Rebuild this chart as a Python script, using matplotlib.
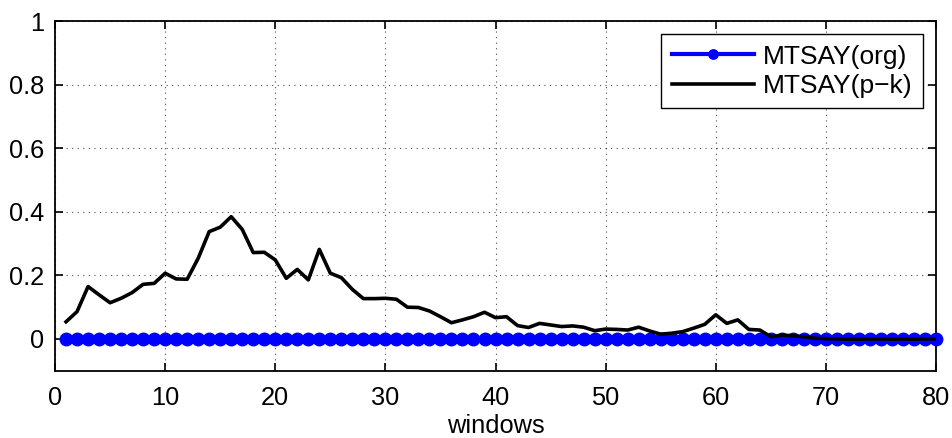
import numpy as np
import matplotlib.pyplot as plt

plt.rcParams['font.family'] = ['Liberation Sans', 'DejaVu Sans']

# windows 1..80
windows = list(range(1, 81))

# MTSAY(org) stays at zero
mtsay_org = [0.0] * 80

# MTSAY(p-k)
mtsay_pk = [0.054, 0.086, 0.165, 0.139, 0.114, 0.128, 0.146, 0.172, 0.175, 0.207,
            0.189, 0.188, 0.254, 0.338, 0.352, 0.385, 0.345, 0.272, 0.273, 0.249,
            0.191, 0.219, 0.186, 0.282, 0.207, 0.193, 0.156, 0.127, 0.127, 0.128,
            0.125, 0.100, 0.099, 0.088, 0.070, 0.051, 0.060, 0.070, 0.084, 0.067,
            0.070, 0.042, 0.036, 0.049, 0.044, 0.039, 0.041, 0.037, 0.026, 0.031,
            0.030, 0.028, 0.037, 0.025, 0.015, 0.018, 0.023, 0.034, 0.046, 0.076,
            0.049, 0.060, 0.030, 0.028, 0.007, 0.012, 0.010, 0.007, 0.002, 0.001,
            0.000, -0.001, -0.001, 0.000, 0.000, -0.001, 0.000, -0.001, 0.000, 0.000]

fs = 18.3

fig = plt.figure(figsize=(9.52, 4.38), dpi=100)
ax = fig.add_axes([0.0578, 0.1537, 0.9254, 0.7973])

ax.plot(windows, mtsay_org, color='blue', marker='o', markersize=9,
        linewidth=2.2, label='MTSAY(org)', clip_on=False, zorder=3)
ax.plot(windows, mtsay_pk, color='black', linewidth=2.6,
        label='MTSAY(p\u2212k)', zorder=4)

ax.set_xlim(0, 80)
ax.set_ylim(-0.1, 1)
ax.set_xticks(range(0, 81, 10))
ax.set_yticks([0, 0.2, 0.4, 0.6, 0.8, 1])
ax.set_yticklabels(['0', '0.2', '0.4', '0.6', '0.8', '1'])
ax.grid(True, linestyle=(0, (1, 4)), color='black', linewidth=0.8, alpha=0.7)
ax.tick_params(direction='in', length=6, width=1.2, labelsize=fs,
               top=True, right=True)
ax.tick_params(axis='x', pad=11)
ax.tick_params(axis='y', pad=8)
for s in ax.spines.values():
    s.set_linewidth(1.3)

ax.set_xlabel('windows', fontsize=fs, labelpad=3)

leg = ax.legend(loc='upper right', bbox_to_anchor=(0.9695, 0.9224),
                bbox_transform=fig.transFigure, fontsize=19,
                fancybox=False, edgecolor='black', framealpha=1,
                handlelength=3.1, borderpad=0.4, labelspacing=0.2,
                handletextpad=0.35, borderaxespad=0, markerscale=0.75)
leg.get_frame().set_linewidth(1.0)
leg.get_lines()[0].set_linewidth(3)

plt.savefig('out.png', dpi=100)
